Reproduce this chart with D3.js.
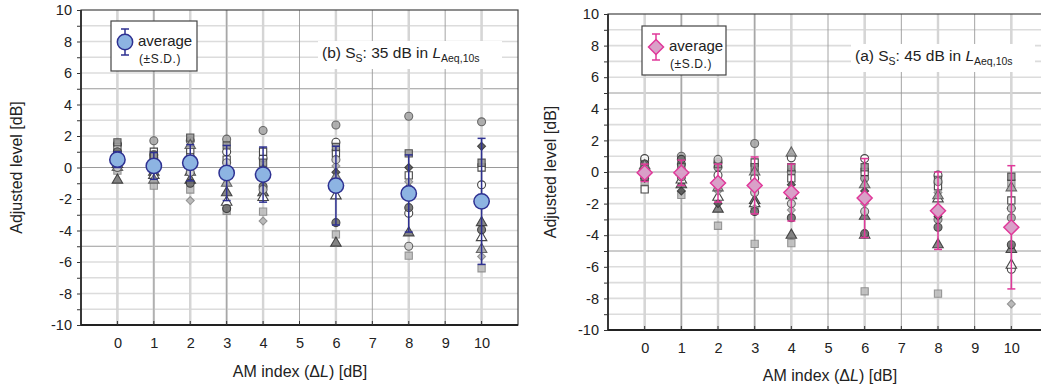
<!DOCTYPE html>
<html><head><meta charset="utf-8">
<script src="https://cdn.jsdelivr.net/npm/d3@7"></script>
<style>body{margin:0;background:#fff;font-family:"Liberation Sans",Arial,sans-serif}</style>
</head><body><svg id="c" width="1041" height="388"></svg>
<script>
// ---------- data ----------
const columns = [0, 1, 2, 3, 4, 6, 8, 10];
const xTicks = [0, 1, 2, 3, 4, 5, 6, 7, 8, 9, 10];
const yTicks = [-10, -8, -6, -4, -2, 0, 2, 4, 6, 8, 10];

// subject marker styles (shape, fill, stroke)
const subjectStyles = [
  {shape: "circle",   fill: "#a8a8a8", stroke: "#5a5a5a"},
  {shape: "circle",   fill: "#ffffff", stroke: "#333333"},
  {shape: "square",   fill: "#bdbdbd", stroke: "#8a8a8a"},
  {shape: "square",   fill: "#ffffff", stroke: "#333333"},
  {shape: "triangle", fill: "#7a7a7a", stroke: "#333333"},
  {shape: "triangle", fill: "#ffffff", stroke: "#333333"},
  {shape: "diamond",  fill: "#b5b5b5", stroke: "#8a8a8a"},
  {shape: "diamond",  fill: "#555555", stroke: "#333333"},
  {shape: "circle",   fill: "#6e6e6e", stroke: "#333333"},
  {shape: "square",   fill: "#9a9a9a", stroke: "#444444"},
  {shape: "triangle", fill: "#a5a5a5", stroke: "#555555"},
  {shape: "circle",   fill: "#cfcfcf", stroke: "#555555"}
];

// panel (b) 35 dB: individual values per subject at columns
const subjects35 = [
  [1.5, 1.7, 1.7, 1.8, 2.35, 2.7, 3.25, 2.9],
  [0.8, 0.6, 0.7, 1.0, 0.6, 1.6, -2.9, -1.1],
  [-0.2, -1.15, -1.4, -2.75, -2.8, -4.25, -5.6, -6.4],
  [1.3, 1.0, 1.1, 0.5, 1.0, 0.9, -0.5, 0.0],
  [-0.8, -0.3, -0.8, -1.6, -1.6, -4.8, -4.15, -3.5],
  [0.2, -0.5, -0.3, -2.2, -1.9, -1.8, -1.3, -4.45],
  [0.4, 0.3, -2.1, -0.5, -3.4, 0.1, -0.9, -5.65],
  [0.6, 0.0, 0.2, 0.0, -0.7, -0.3, 0.0, 1.35],
  [1.0, 0.8, -1.0, -2.6, -1.2, -3.5, -2.55, -3.95],
  [1.6, 0.8, 1.9, 1.4, 0.3, 1.3, 0.9, 0.3],
  [0.0, -0.8, 1.4, -1.0, -0.2, -0.6, -1.6, -5.2],
  [0.0, 0.3, -0.3, 0.3, -1.4, 0.5, -5.0, -2.0]
];
const avg35 = [0.5, 0.1, 0.3, -0.35, -0.45, -1.15, -1.65, -2.15];
const sd35  = [0.5, 0.85, 1.15, 1.75, 1.75, 2.5, 2.45, 4.0];

// panel (a) 45 dB
const subjects45 = [
  [0.7, 1.0, 0.3, 1.8, 0.0, -0.4, -3.0, -2.9],
  [0.85, 0.5, -0.2, -0.4, 0.9, 0.85, -0.2, -6.15],
  [-0.6, -1.45, -3.4, -4.55, -4.5, -7.55, -7.7, -0.7],
  [-1.1, -0.2, -0.7, 0.6, -0.4, 0.0, -0.9, -1.8],
  [0.1, -0.8, -2.35, -1.8, -4.0, -2.8, -4.6, -4.9],
  [0.3, -0.5, -1.6, -2.0, -1.5, -4.0, -1.7, -5.9],
  [-0.2, 0.2, -1.2, -2.3, -2.4, -2.0, -1.3, -8.35],
  [-0.4, -1.2, -2.0, -0.9, -0.8, -1.2, -2.8, -2.3],
  [0.5, 0.8, 0.6, -2.5, -2.9, -3.9, -3.5, -4.6],
  [-0.3, 0.3, 0.5, 0.3, 0.3, 0.3, -0.5, -0.3],
  [0.4, 0.0, -1.0, 0.0, 1.2, -0.8, -1.5, -1.0],
  [0.2, -0.3, 0.8, -1.3, -2.0, -2.5, -0.6, -2.3]
];
const avg45 = [-0.05, -0.05, -0.7, -0.85, -1.3, -1.65, -2.45, -3.5];
const sd45  = [0.55, 0.8, 1.2, 1.8, 1.8, 2.5, 2.45, 3.9];

// ---------- drawing ----------
const svg = d3.select("#c");
const FONT = "'Liberation Sans', Arial, sans-serif";

function symPath(shape, size) {
  if (shape === "circle") return d3.symbol(d3.symbolCircle, size)();
  if (shape === "square") return d3.symbol(d3.symbolSquare, size)();
  if (shape === "triangle") return d3.symbol(d3.symbolTriangle, size)();
  const a = Math.sqrt(size) * 0.72;
  return `M0,${-a}L${a},0L0,${a}L${-a},0Z`;
}

function drawPanel(cfg) {
  const g = svg.append("g");
  const x = d3.scaleLinear().domain([-1, 11]).range([cfg.left, cfg.right]);
  const y = d3.scaleLinear().domain([-10, 10]).range([cfg.bottom, cfg.top]);
  const clipId = "clip" + cfg.id;
  svg.append("clipPath").attr("id", clipId).append("rect")
    .attr("x", cfg.left).attr("y", cfg.top)
    .attr("width", cfg.right - cfg.left).attr("height", cfg.bottom - cfg.top);
  const pg = g.append("g").attr("clip-path", `url(#${clipId})`);

  // horizontal grid
  pg.selectAll(".hg").data(d3.range(-9, 10)).join("line")
    .attr("x1", cfg.left).attr("x2", cfg.right)
    .attr("y1", d => y(d)).attr("y2", d => y(d))
    .attr("stroke", d => (d % 5 === 0) ? "#9a9a9a" : "#dcdcdc")
    .attr("stroke-width", d => (d % 5 === 0) ? 1 : 1.6);
  // data-column light lines
  pg.selectAll(".cl").data(columns).join("line")
    .attr("x1", d => x(d)).attr("x2", d => x(d))
    .attr("y1", cfg.top).attr("y2", cfg.bottom)
    .attr("stroke", "#d2d2d2").attr("stroke-width", 2.4);
  // vertical grid
  pg.selectAll(".vg").data(d3.range(0, 11)).join("line")
    .attr("x1", d => x(d)).attr("x2", d => x(d))
    .attr("y1", cfg.top).attr("y2", cfg.bottom)
    .attr("stroke", d => (d % 2 === 1) ? "#9a9a9a" : "#d6d6d6")
    .attr("stroke-width", d => (d % 2 === 1) ? 0.9 : 1.4);

  // title background & text
  const tg = g.append("g");
  tg.append("rect").attr("x", cfg.titleX - 4).attr("y", cfg.titleY - 17)
    .attr("width", 184).attr("height", 28).attr("fill", "#fff");
  const t = tg.append("text").attr("x", cfg.titleX).attr("y", cfg.titleY)
    .attr("font-family", FONT).attr("font-size", 15.5).attr("fill", "#222");
  t.append("tspan").text(cfg.tag + " S");
  t.append("tspan").attr("font-size", 10.5).attr("dy", 4).text("S");
  t.append("tspan").attr("dy", -4).text(": " + cfg.level + " dB in ");
  t.append("tspan").attr("font-style", "italic").text("L");
  t.append("tspan").attr("font-size", 10.5).attr("dy", 4).text("Aeq,10s");

  // individual points
  cfg.subjects.forEach((vals, si) => {
    const st = subjectStyles[si];
    const size = st.shape === "diamond" ? 30 : (st.shape === "triangle" ? 48 : (st.shape === "square" ? 52 : 50));
    pg.selectAll(null).data(vals.map((v, i) => ({c: columns[i], v}))).join("path")
      .attr("d", symPath(st.shape, size))
      .attr("transform", d => `translate(${x(d.c)},${y(d.v)})`)
      .attr("fill", st.fill).attr("stroke", st.stroke).attr("stroke-width", 1.1)
      .attr("opacity", 0.9);
  });

  // error bars + averages
  const eb = pg.selectAll(".eb").data(columns.map((c, i) => ({c, m: cfg.avg[i], s: cfg.sd[i]}))).join("g");
  eb.append("line").attr("x1", d => x(d.c)).attr("x2", d => x(d.c))
    .attr("y1", d => y(d.m + d.s)).attr("y2", d => y(d.m - d.s))
    .attr("stroke", cfg.barColor).attr("stroke-width", 1.5);
  [1, -1].forEach(sg => {
    eb.append("line").attr("x1", d => x(d.c) - 4).attr("x2", d => x(d.c) + 4)
      .attr("y1", d => y(d.m + sg * d.s)).attr("y2", d => y(d.m + sg * d.s))
      .attr("stroke", cfg.barColor).attr("stroke-width", 1.5);
  });
  eb.append("path").attr("d", cfg.avgPath)
    .attr("transform", d => `translate(${x(d.c)},${y(d.m)})`)
    .attr("fill", cfg.avgFill).attr("stroke", cfg.avgStroke).attr("stroke-width", 1.5);

  // frame
  g.append("rect").attr("x", cfg.left).attr("y", cfg.top)
    .attr("width", cfg.right - cfg.left).attr("height", cfg.bottom - cfg.top)
    .attr("fill", "none").attr("stroke", "#444").attr("stroke-width", 1.2);
  g.append("line").attr("x1", cfg.left).attr("x2", cfg.left).attr("y1", cfg.top).attr("y2", cfg.bottom)
    .attr("stroke", "#222").attr("stroke-width", 1.6);
  g.append("line").attr("x1", cfg.left).attr("x2", cfg.right).attr("y1", cfg.bottom).attr("y2", cfg.bottom)
    .attr("stroke", "#222").attr("stroke-width", 1.8);

  // y axis
  const ya = d3.axisLeft(y).tickValues(d3.range(-10, 11)).tickSize(4)
    .tickFormat(d => yTicks.includes(d) ? d : "");
  const yg = g.append("g").attr("transform", `translate(${cfg.left},0)`).call(ya);
  yg.select(".domain").remove();
  yg.selectAll("line").attr("stroke", "#333");
  yg.selectAll("text").attr("font-family", FONT).attr("font-size", 14.5).attr("fill", "#222").attr("dx", -2);

  // x axis
  const xa = d3.axisBottom(x).tickValues(xTicks).tickSize(0).tickPadding(13);
  const xg = g.append("g").attr("transform", `translate(0,${cfg.bottom})`).call(xa);
  xg.select(".domain").remove();
  xg.selectAll("text").attr("font-family", FONT).attr("font-size", 14.5).attr("fill", "#222");
  g.selectAll(".xt").data(xTicks).join("line")
    .attr("x1", d => x(d)).attr("x2", d => x(d))
    .attr("y1", cfg.bottom).attr("y2", cfg.bottom - 4)
    .attr("stroke", "#333").attr("stroke-width", 1);

  // axis titles
  const xt = g.append("text").attr("x", cfg.xTitleX).attr("y", cfg.xTitleY)
    .attr("text-anchor", "middle").attr("font-family", FONT).attr("font-size", 16).attr("fill", "#222");
  xt.append("tspan").text("AM index (Δ");
  xt.append("tspan").attr("font-style", "italic").text("L");
  xt.append("tspan").text(") [dB]");
  g.append("text").attr("transform", `translate(${cfg.yTitleX},${(cfg.top + cfg.bottom) / 2}) rotate(-90)`)
    .attr("text-anchor", "middle").attr("font-family", FONT).attr("font-size", 16).attr("fill", "#222")
    .text("Adjusted level [dB]");

  // legend
  const L = cfg.legend;
  g.append("rect").attr("x", L.x).attr("y", L.y).attr("width", L.w).attr("height", L.h)
    .attr("fill", "#fff").attr("stroke", "#444").attr("stroke-width", 1.2);
  const mx = L.x + 14, my = L.y + 21;
  g.append("line").attr("x1", mx).attr("x2", mx).attr("y1", my - 13).attr("y2", my + 13)
    .attr("stroke", cfg.barColor).attr("stroke-width", 1.5);
  [-13, 13].forEach(o => g.append("line").attr("x1", mx - 4).attr("x2", mx + 4)
    .attr("y1", my + o).attr("y2", my + o).attr("stroke", cfg.barColor).attr("stroke-width", 1.5));
  g.append("path").attr("d", cfg.avgPath).attr("transform", `translate(${mx},${my})`)
    .attr("fill", cfg.avgFill).attr("stroke", cfg.avgStroke).attr("stroke-width", 1.5);
  g.append("text").attr("x", mx + 13).attr("y", my + 4).attr("font-family", FONT)
    .attr("font-size", 15).attr("fill", "#222").text("average");
  g.append("text").attr("x", mx + 14).attr("y", my + 21).attr("font-family", FONT)
    .attr("font-size", 12).attr("letter-spacing", 0.6).attr("fill", "#222").text("(±S.D.)");
}

const circlePath = d3.symbol(d3.symbolCircle, 185)();
const diamondPath = "M0,-7.5L7.5,0L0,7.5L-7.5,0Z";

drawPanel({
  id: "L", left: 81, right: 518, top: 10, bottom: 325,
  subjects: subjects35, avg: avg35, sd: sd35,
  barColor: "#2e3192", avgFill: "#8db4e2", avgStroke: "#2e3192", avgPath: circlePath,
  tag: "(b)", level: "35", titleX: 322, titleY: 58,
  xTitleX: 300, xTitleY: 377, yTitleX: 22,
  legend: {x: 111, y: 21, w: 86, h: 50}
});
drawPanel({
  id: "R", left: 608, right: 1048, top: 14, bottom: 330,
  subjects: subjects45, avg: avg45, sd: sd45,
  barColor: "#e0399a", avgFill: "#d9a0c8", avgStroke: "#e0399a", avgPath: diamondPath,
  tag: "(a)", level: "45", titleX: 855, titleY: 61,
  xTitleX: 830, xTitleY: 381, yTitleX: 556,
  legend: {x: 642, y: 26, w: 84, h: 49}
});
</script></body></html>
